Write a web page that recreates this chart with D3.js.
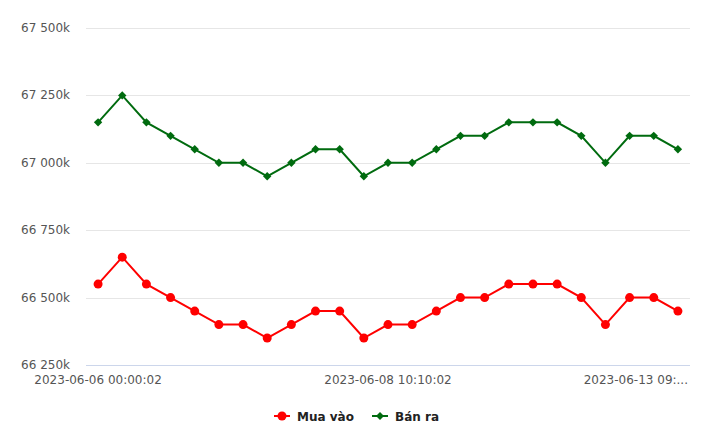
<!DOCTYPE html>
<html><head><meta charset="utf-8">
<script src="https://cdn.jsdelivr.net/npm/d3@7/dist/d3.min.js"></script>
<style>body{margin:0;background:#fff}svg{display:block}</style>
</head><body><svg id="c" width="720" height="446"></svg>
<script>
const categories = [
"2023-06-06 00:00:02","2023-06-06 08:30:02","2023-06-06 10:10:02","2023-06-06 14:00:02","2023-06-06 16:00:02",
"2023-06-07 08:30:02","2023-06-07 09:30:02","2023-06-07 10:10:02","2023-06-07 14:00:02","2023-06-07 16:00:02",
"2023-06-08 08:30:02","2023-06-08 09:30:02","2023-06-08 10:10:02","2023-06-08 14:00:02","2023-06-09 08:30:02",
"2023-06-09 10:10:02","2023-06-09 14:00:02","2023-06-10 08:30:02","2023-06-10 10:10:02","2023-06-11 08:30:02",
"2023-06-12 08:30:02","2023-06-12 10:10:02","2023-06-12 14:00:02","2023-06-13 08:30:02","2023-06-13 09:30:02"];
const muaVao = [66550,66650,66550,66500,66450,66400,66400,66350,66400,66450,66450,66350,66400,66400,66450,66500,66500,66550,66550,66550,66500,66400,66500,66500,66450];
const banRa = [67150,67250,67150,67100,67050,67000,67000,66950,67000,67050,67050,66950,67000,67000,67050,67100,67100,67150,67150,67150,67100,67000,67100,67100,67050];
const yTicks = [66250,66500,66750,67000,67250,67500];
const xTickIdx = [0,12,24];
const xTickText = ["2023-06-06 00:00:02","2023-06-08 10:10:02","2023-06-13 09:..."];
const seriesNames = ["Mua vào","Bán ra"];

const svg = d3.select("#c");
const L=86,R=690,T=28,B=365;
const x = d3.scaleBand().domain(d3.range(categories.length)).range([L,R]).padding(0);
const y = d3.scaleLinear().domain([66250,67500]).range([B,T]);
const cx = i => x(i)+x.bandwidth()/2;
const font = "DejaVu Sans, sans-serif";

// grid
svg.append("g").selectAll("line").data(yTicks.slice(1)).join("line")
  .attr("x1",L).attr("x2",R).attr("y1",d=>Math.round(y(d))+0.5).attr("y2",d=>Math.round(y(d))+0.5)
  .attr("stroke","#e6e6e6").attr("stroke-width",1);
svg.append("line").attr("x1",L).attr("x2",R).attr("y1",B+0.5).attr("y2",B+0.5).attr("stroke","#ccd6eb");

const fmt = v => { const s=String(v); return s.slice(0,2)+" "+s.slice(2,5)+"k"; };
svg.append("g").selectAll("text").data(yTicks).join("text")
  .attr("x",70).attr("y",d=>y(d)+4).attr("text-anchor","end")
  .attr("font-family",font).attr("font-size",12).attr("fill","#555").text(fmt);

svg.append("g").selectAll("text").data(xTickIdx).join("text")
  .attr("x",(d,i)=> i===xTickIdx.length-1 ? 688 : cx(d))
  .attr("text-anchor",(d,i)=> i===xTickIdx.length-1 ? "end":"middle")
  .attr("y",B+19).attr("font-family",font).attr("font-size",12).attr("fill","#555")
  .text((d,i)=>xTickText[i]);

const line = d3.line().x((d,i)=>cx(i)).y(d=>y(d));
const cols = ["#ff0000","#006b0f"];
[muaVao,banRa].forEach((data,k)=>{
  svg.append("path").attr("d",line(data)).attr("fill","none").attr("stroke",cols[k]).attr("stroke-width",2);
  const g = svg.append("g");
  if(k===0){
    g.selectAll("circle").data(data).join("circle").attr("cx",(d,i)=>cx(i)).attr("cy",d=>y(d)).attr("r",4.5).attr("fill",cols[k]);
  } else {
    g.selectAll("path").data(data).join("path")
      .attr("d",d3.symbol(d3.symbolDiamond2,45)()).attr("transform",(d,i)=>`translate(${cx(i)},${y(d)})`).attr("fill",cols[k]);
  }
});

// legend
const leg = [{x:274,tx:297},{x:372,tx:395}];
leg.forEach((p,k)=>{
  svg.append("line").attr("x1",p.x).attr("x2",p.x+16).attr("y1",416).attr("y2",416).attr("stroke",cols[k]).attr("stroke-width",2);
  if(k===0) svg.append("circle").attr("cx",p.x+8).attr("cy",416).attr("r",4.5).attr("fill",cols[k]);
  else svg.append("path").attr("d",d3.symbol(d3.symbolDiamond2,40)()).attr("transform",`translate(${p.x+8},416)`).attr("fill",cols[k]);
  svg.append("text").attr("x",p.tx).attr("y",420.5).attr("font-family",font).attr("font-size",12).attr("font-weight","bold").attr("fill","#222").text(seriesNames[k]);
});
</script></body></html>
